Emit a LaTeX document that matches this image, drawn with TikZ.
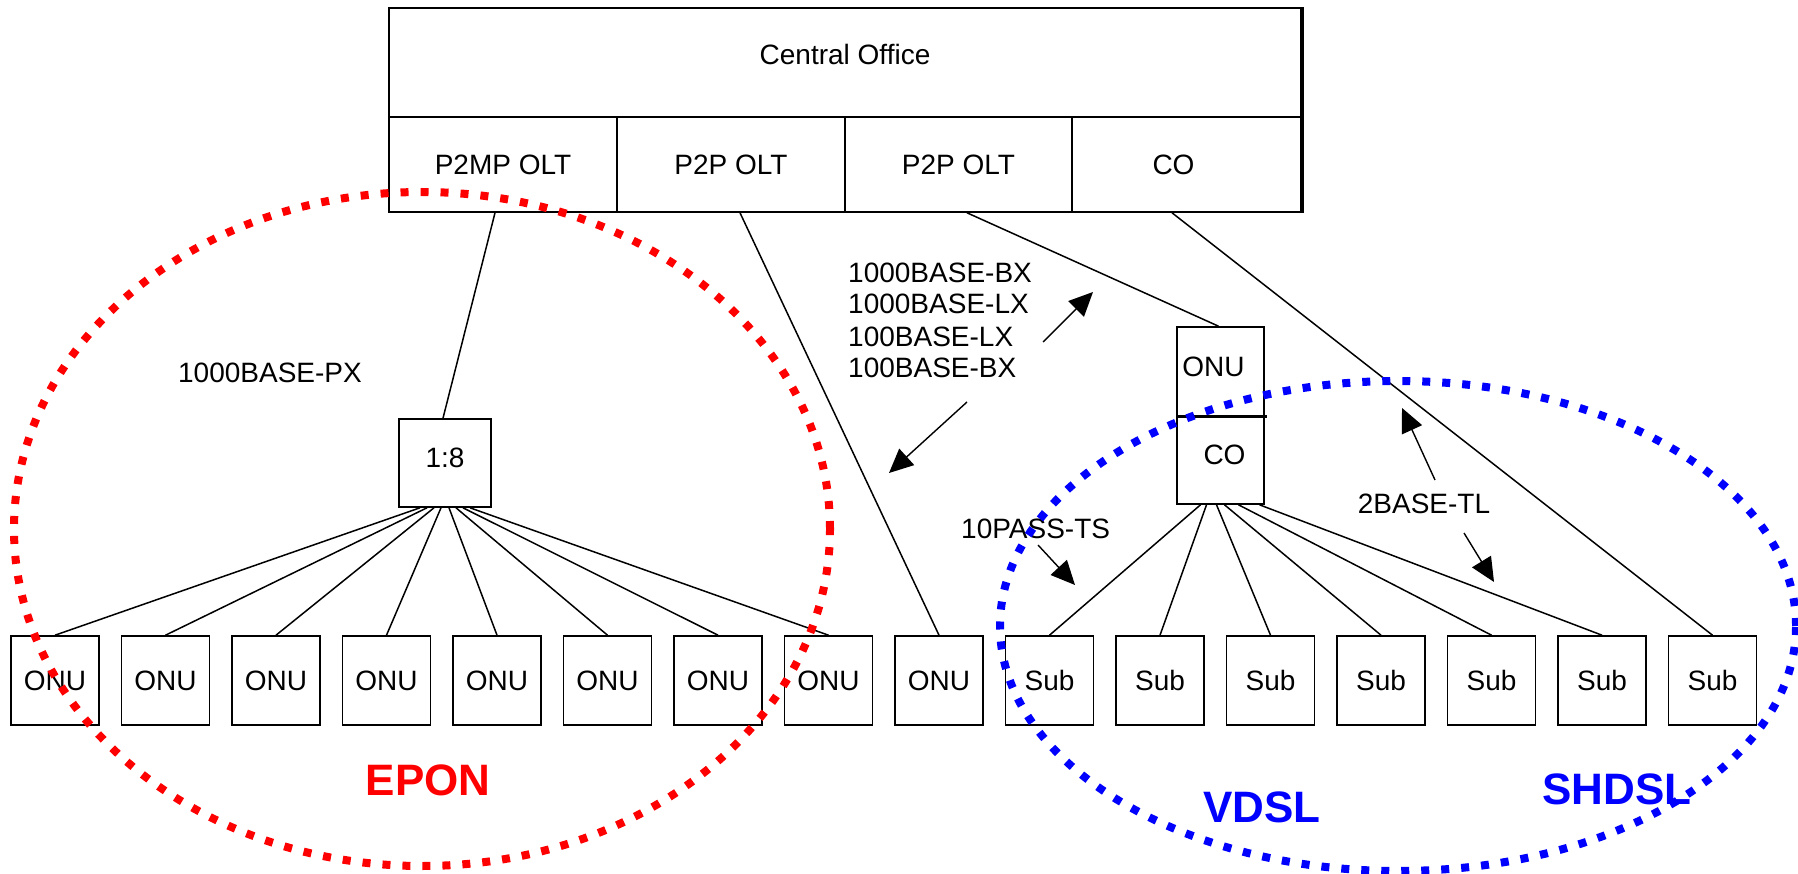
\documentclass[tikz,border=0pt]{standalone}
\usepackage{fontspec}
\setmainfont{Liberation Sans}
\usetikzlibrary{arrows.meta,calc}
\begin{document}
\begin{tikzpicture}[x=1pt,y=-1pt,
  box/.style={draw,line width=1.6pt,inner sep=0pt,font=\fontsize{28}{32}\selectfont},
  cell/.style={box,minimum height=95pt},
  leaf/.style={box,minimum width=88pt,minimum height=89pt},
  wire/.style={line width=1.5pt},
  arr/.style={line width=1.4pt,-{Triangle[length=24pt,width=22pt]}},
  lbl/.style={font=\fontsize{28}{32}\selectfont,inner sep=0pt},
  big/.style={font=\fontsize{44}{48}\selectfont\bfseries,inner sep=0pt},
  dotring/.style={line width=8pt,dash pattern=on 8pt off 12pt}]
\useasboundingbox (0,0) rectangle (1798,874);
% central office block
\node[box,minimum width=912pt,minimum height=109pt,text depth=16pt] (office) at (845,62.5) {Central Office};
\node[cell,minimum width=228pt] (p2mp) at (503,164.5) {P2MP OLT};
\node[cell,minimum width=228pt] (p2pa) at (731,164.5) {P2P OLT};
\node[cell,minimum width=227pt] (p2pb) at (958.5,164.5) {P2P OLT};
\node[cell,minimum width=229pt] (coc) at (1186.5,164.5) {\hspace*{-26pt}CO};
\draw[line width=1.6pt] ([xshift=1.2pt]office.north east) -- ([xshift=1.2pt]coc.south east);
% splitter and remote ONU/CO
\node[box,minimum width=92pt,minimum height=88pt,text depth=10pt] (split) at (445,463) {1:8};
\node[box,minimum width=87pt,minimum height=89pt,text depth=10pt] (onu) at (1220.5,371.5) {\hspace*{-14pt}ONU};
\node[box,minimum width=87pt,minimum height=88pt,text depth=10pt] (co) at (1220.5,460) {\hspace*{8pt}CO};
\draw[line width=3.2pt] (onu.south west) -- ([xshift=2pt]onu.south east);
% bottom row
\foreach \i/\t in {0/ONU,1/ONU,2/ONU,3/ONU,4/ONU,5/ONU,6/ONU,7/ONU,8/ONU,9/Sub,10/Sub,11/Sub,12/Sub,13/Sub,14/Sub,15/Sub}
  \node[leaf] (b\i) at ({55+110.5*\i},680.5) {\t};
% connectors
\draw[wire] ([xshift=-8pt]p2mp.south) -- ([xshift=-2pt]split.north);
\draw[wire] ([xshift=9pt]p2pa.south) -- (b8.north);
\draw[wire] ([xshift=8.5pt]p2pb.south) -- ([xshift=-2pt]onu.north);
\draw[wire] ([xshift=-14.5pt]coc.south) -- (b15.north);
\foreach \i/\o in {0/-25,1/-18,2/-11,3/-4,4/4,5/11,6/18,7/25}
  \draw[wire] ([xshift=\o pt]split.south) -- (b\i.north);
\foreach \i/\o in {9/-20,10/-14,11/-4,12/4,13/18,14/39}
  \draw[wire] ([xshift=\o pt]co.south) -- (b\i.north);
% labels
\node[lbl,anchor=east] (px) at (362,373) {1000BASE-PX};
\node[lbl,anchor=west] (bx1) at (848,273) {1000BASE-BX};
\node[lbl,anchor=west] (lx1) at (848,304) {1000BASE-LX};
\node[lbl,anchor=west] (lx2) at (848,337) {100BASE-LX};
\node[lbl,anchor=west] (bx2) at (848,368) {100BASE-BX};
\node[lbl,anchor=west] (pass) at (961,529) {10PASS-TS};
\node[lbl] (tl) at (1424,504) {2BASE-TL};
% arrows
\coordinate (a1s) at (1043,342); \coordinate (a1e) at (1093,292);
\coordinate (a2s) at (967,402);  \coordinate (a2e) at (889,473);
\coordinate (a3s) at (1038,545); \coordinate (a3e) at (1075,585);
\coordinate (a4s) at (1435,480); \coordinate (a4e) at (1402,408);
\coordinate (a5s) at (1464,533); \coordinate (a5e) at (1494,582);
\draw[arr] (a1s) -- (a1e);
\draw[arr] (a2s) -- (a2e);
\draw[arr] (a3s) -- (a3e);
\draw[arr] (a4s) -- (a4e);
\draw[arr] (a5s) -- (a5e);
% group rings
\draw[red,dotring] (422,529) ellipse [x radius=408pt, y radius=337pt];
\draw[blue,dotring] (1398,626) ellipse [x radius=398pt, y radius=245pt];
\node[big,text=red] (epon) at (428,780) {EPON};
\node[big,text=blue] (vdsl) at (1262,807) {VDSL};
\node[big,text=blue] (shdsl) at (1617,789) {SHDSL};
\end{tikzpicture}
\end{document}
